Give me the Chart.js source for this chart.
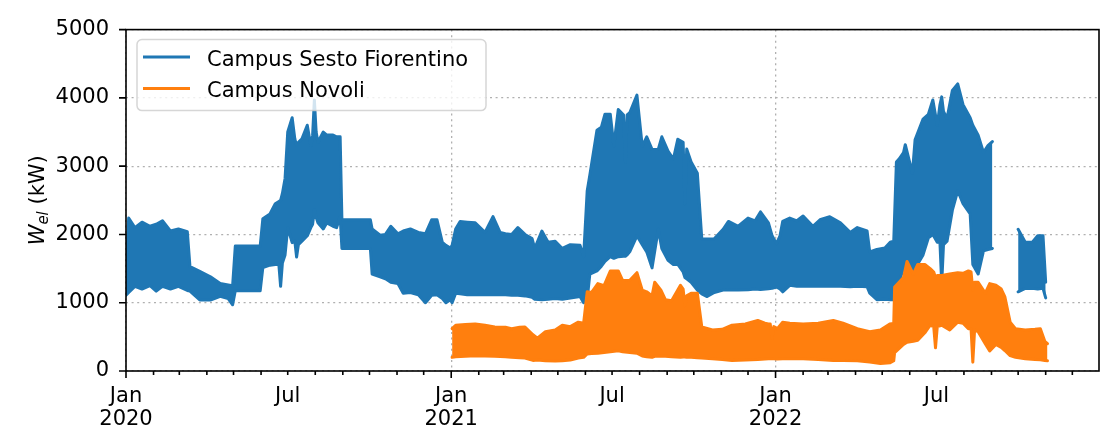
<!DOCTYPE html>
<html>
<head>
<meta charset="utf-8">
<script src="https://cdn.jsdelivr.net/npm/chart.js@4/dist/chart.umd.min.js"></script>
<style>
  html, body { margin: 0; padding: 0; background: #fff; }
  #wrap { width: 1110px; height: 431px; }
</style>
</head>
<body>
<div id="wrap"><canvas id="chart" width="1110" height="431"></canvas></div>
<script>
// days since 2020-01-01, with the upper / lower envelope of the hourly load (kW)
const seriesNames = ['Campus Sesto Fiorentino', 'Campus Novoli'];

const blueDays = [
  0, 3, 10, 18, 27, 34, 41, 50, 59, 69, 72, 83, 95, 106, 115, 120, 123, 151, 154, 162,
  168, 172, 174, 176, 179, 182, 187, 190, 192, 194, 198, 204, 208, 210, 212, 214, 216, 222, 226, 233, 237, 241, 243, 275, 277, 286,
  292, 298, 306, 312, 320, 329, 337, 344, 350, 356, 360, 365,
  367, 371, 376, 384, 393, 404, 413, 421, 427, 434, 441, 449, 457, 460, 468, 475, 483, 491, 500, 511,
  515, 519, 522, 530, 535, 539, 545, 549, 554, 560, 562, 564, 567, 575, 581, 586, 592, 599, 603, 610, 616, 621, 627, 629, 631,
  636, 643, 648, 654, 662, 672, 678, 689, 700, 708, 714, 723, 727, 732,
  736, 739, 747, 755, 762, 773, 781, 792, 804, 815, 823, 834, 837, 845, 854, 860, 864, 867, 870, 875,
  877, 885, 888, 897, 903, 908, 913, 916, 918, 920, 924, 930, 936, 942, 950, 953, 959, 965, 970, 975, 989, 1004,
  1012, 1020, 1026, 1032, 1035
];
const blueUpper = [
  1420, 2240, 2100, 2180, 2120, 2150, 2200, 2050, 2080, 2040, 1530, 1460, 1380, 1280, 1260, 1250, 1830, 1830, 2230, 2300,
  2450, 2480, 2500, 2600, 2820, 3500, 3710, 3400, 3300, 3350, 3400, 3600, 3300, 3450, 3970, 3500, 3350, 3500, 3455, 3455, 3430, 3430, 2215, 2215, 2080, 1990,
  2000, 2120, 2010, 2050, 2080, 2030, 2010, 2215, 2215, 1885, 1840, 1800,
  1840, 2080, 2190, 2180, 2170, 2030, 2260, 2030, 2010, 2000, 2100, 2000, 1940, 1795, 2050, 1885, 1900, 1795, 1850, 1840,
  1675, 2635, 2870, 3525, 3570, 3760, 3760, 3300, 3830, 3750, 3060, 3750, 3785, 4040, 3290, 3430, 3245, 3245, 3430, 3220, 3105, 3395, 3350, 2450, 3250,
  3060, 2895, 1935, 1935, 1935, 2075, 2190, 2120, 2240, 2200, 2330, 2170, 1985, 1865,
  1980, 2190, 2240, 2200, 2270, 2120, 2215, 2260, 2170, 2030, 2100, 2050, 1745, 1780, 1800, 1885, 1900, 3060, 3105, 3200,
  3315, 2895, 3385, 3690, 3760, 3970, 3600, 3900, 4015, 3800, 3700, 4110, 4205, 3900, 3710, 3600, 3455, 3200, 3300, 3360, null, 2075,
  1885, 1885, 1980, 1980, 1300
];
const blueLower = [
  1110, 1150, 1240, 1200, 1250, 1170, 1240, 1200, 1240, 1180, 1170, 1040, 1040, 1095, 1060, 970, 1175, 1175, 1515, 1550,
  1560, 1560, 1240, 1580, 1700, 2100, 1880, 1900, 1670, 1850, 1900, 1980, 2100, 2150, 2360, 2250, 2170, 2080, 2170, 2120, 2100, 2260, 1795, 1795, 1420, 1380,
  1350, 1300, 1280, 1140, 1150, 1115, 1000, 1110, 1115, 1060, 1000, 1045,
  1000, 1140, 1130, 1115, 1120, 1115, 1120, 1115, 1115, 1110, 1110, 1100, 1080, 1050, 1045, 1050, 1060, 1050, 1070, 1090,
  1000, 1050, 1420, 1465, 1535, 1605, 1675, 1650, 1675, 1680, 1680, 1700, 1750, 1980, 1850, 1745, 1510, 2075, 1795, 1620, 1560, 1560, 1450, 1370, 1350,
  1300, 1185, 1130, 1090, 1150, 1185, 1190, 1185, 1190, 1200, 1195, 1205, 1210, 1230,
  1200, 1160, 1255, 1240, 1240, 1240, 1240, 1245, 1240, 1235, 1240, 1235, 1140, 1045, 1050, 1045, 1045, 1230, 1300, 1510,
  1500, 1420, 1500, 1700, 1950, 2000, 1885, 1880, 1280, 1850, 1900, 2355, 2640, 2450, 2300, 1560, 1420, 1760, 1780, 1795, null, 1160,
  1210, 1210, 1200, 1210, 1070
];

const orangeDays = [
  367, 371, 382, 393, 404, 415, 427, 434, 443, 449, 458, 463, 472, 483, 491, 500, 509, 515, 519, 524,
  531, 538, 545, 554, 559, 567, 575, 581, 586, 592, 595, 602, 607, 614, 624, 627, 629, 631, 636, 643, 648, 660,
  671, 682, 697, 711, 719, 723, 725, 727, 729, 733, 739, 747, 762, 779, 796, 807, 823, 837, 849, 860, 864, 865,
  875, 879, 886, 891, 899, 905, 909, 911, 913, 918, 927, 936, 942, 948, 951, 953, 955, 959, 967, 972, 979, 985, 989, 995,
  1001, 1012, 1023, 1029, 1034, 1037
];
const orangeUpper = [
  620, 670, 680, 690, 670, 645, 640, 620, 640, 645, 530, 480, 575, 600, 670, 650, 715, 700, 1160, 1150,
  1280, 1250, 1465, 1465, 1325, 1330, 1440, 1185, 1160, 1100, 1300, 1185, 1045, 1030, 1255, 1200, 955, 1100, 1140, 1140, 645, 600,
  610, 670, 690, 740, 700, 690, 690, 480, 650, 620, 715, 700, 690, 700, 740, 700, 620, 575, 600, 690, 700, 1230,
  1370, 1605, 1420, 1560, 1560, 1500, 1450, 1370, 1400, 1400, 1420, 1440, 1430, 1465, 1450, 1185, 1300, 1300, 1140, 1280, 1255, 1200, 1090, 715,
  620, 600, 610, 620, 435, 400
];
const orangeLower = [
  200, 210, 215, 225, 220, 215, 210, 200, 195, 190, 155, 160, 150, 145, 150, 160, 190, 200, 250, 255,
  260, 270, 280, 295, 280, 270, 260, 220, 210, 200, 215, 220, 215, 210, 200, 205, 205, 200, 200, 195, 190, 180,
  170, 155, 160, 170, 175, 180, 180, 180, 178, 175, 180, 180, 180, 170, 155, 155, 150, 130, 110, 120, 150, 270,
  390, 420, 435, 450, 560, 670, 650, 340, 650, 670, 600, 715, 700, 620, 620, 130, 600, 575, 400, 295, 390, 345, 300, 225,
  200, 180, 170, 165, 155, 150
];

const yTicks = [0, 1000, 2000, 3000, 4000, 5000];
const startYear = 2020, endYear = 2022;
const xMaxDay = 1095;

const BLUE = '#1f77b4', ORANGE = '#ff7f0e', GRID = '#b0b0b0';
const FONT = '"DejaVu Sans", sans-serif';

// first day of every month, as days since 2020-01-01
const monthDays = [];
for (let yr = startYear; yr <= endYear; yr++) {
  for (let m = 0; m < 12; m++) monthDays.push((Date.UTC(yr, m, 1) - Date.UTC(startYear, 0, 1)) / 864e5);
}

const pts = (xs, ys) => xs.map((x, i) => ({ x, y: ys[i] }));

function lineSet(label, xs, ys, color, fill, order) {
  return {
    label, data: pts(xs, ys), borderColor: color, backgroundColor: color, borderWidth: 3,
    pointRadius: 0, fill, order, spanGaps: false, tension: 0,
    borderJoinStyle: 'round', borderCapStyle: 'round'
  };
}

const framePlugin = {
  id: 'frame',
  afterDraw(chart) {
    const { ctx, chartArea: a, scales: { x, y } } = chart;
    ctx.save();
    // spines
    ctx.strokeStyle = '#000';
    ctx.lineWidth = 1.6;
    ctx.strokeRect(a.left, a.top, a.right - a.left, a.bottom - a.top);
    // tick marks
    ctx.beginPath();
    yTicks.forEach(v => {
      const py = y.getPixelForValue(v);
      ctx.moveTo(a.left, py); ctx.lineTo(a.left - 7, py);
    });
    monthDays.forEach((d, i) => {
      const px = x.getPixelForValue(d);
      ctx.moveTo(px, a.bottom); ctx.lineTo(px, a.bottom + (i % 12 === 0 ? 7 : 4));
    });
    ctx.stroke();

    // y axis title: W_el (kW)
    ctx.save();
    ctx.translate(36, (a.top + a.bottom) / 2);
    ctx.rotate(-Math.PI / 2);
    ctx.fillStyle = '#000';
    ctx.textBaseline = 'alphabetic';
    const fW = 'italic 21px ' + FONT, fSub = 'italic 15px ' + FONT, fReg = '21px ' + FONT;
    ctx.font = fW; const wW = ctx.measureText('W').width;
    ctx.font = fSub; const wS = ctx.measureText('el').width;
    ctx.font = fReg; const wR = ctx.measureText(' (kW)').width;
    let cx = -(wW + wS + wR) / 2;
    ctx.font = fW; ctx.fillText('W', cx, 7.5); cx += wW;
    ctx.font = fSub; ctx.fillText('el', cx, 11.5); cx += wS;
    ctx.font = fReg; ctx.fillText(' (kW)', cx, 7.5);
    ctx.restore();

    // legend
    const lx = a.left + 11, ly = a.top + 10, lw = 349, lh = 71, r = 5;
    ctx.beginPath();
    ctx.moveTo(lx + r, ly);
    ctx.arcTo(lx + lw, ly, lx + lw, ly + lh, r);
    ctx.arcTo(lx + lw, ly + lh, lx, ly + lh, r);
    ctx.arcTo(lx, ly + lh, lx, ly, r);
    ctx.arcTo(lx, ly, lx + lw, ly, r);
    ctx.closePath();
    ctx.fillStyle = 'rgba(255,255,255,0.8)';
    ctx.fill();
    ctx.strokeStyle = 'rgba(204,204,204,0.8)';
    ctx.lineWidth = 1.5;
    ctx.stroke();
    [BLUE, ORANGE].forEach((c, i) => {
      const yy = ly + 17.5 + i * 31.5;
      ctx.strokeStyle = c; ctx.lineWidth = 3;
      ctx.beginPath(); ctx.moveTo(lx + 6, yy); ctx.lineTo(lx + 53, yy); ctx.stroke();
      ctx.fillStyle = '#000'; ctx.font = '21px ' + FONT;
      ctx.fillText(seriesNames[i], lx + 70, yy + 8.8);
    });
    ctx.restore();
  }
};

new Chart(document.getElementById('chart'), {
  type: 'line',
  data: {
    datasets: [
      lineSet(seriesNames[0] + ' low', blueDays, blueLower, BLUE, false, 1),
      lineSet(seriesNames[0], blueDays, blueUpper, BLUE, '-1', 1),
      lineSet(seriesNames[1] + ' low', orangeDays, orangeLower, ORANGE, false, 0),
      lineSet(seriesNames[1], orangeDays, orangeUpper, ORANGE, '-1', 0)
    ]
  },
  options: {
    responsive: false,
    animation: false,
    layout: { padding: { top: 15, right: 11, left: 0, bottom: 0 } },
    plugins: { legend: { display: false }, tooltip: { enabled: false } },
    scales: {
      x: {
        type: 'linear', min: 0, max: xMaxDay,
        afterFit(s) { s.height = 60; },
        afterBuildTicks(s) { s.ticks = monthDays.map(v => ({ value: v })); },
        grid: { drawTicks: false, lineWidth: 1.3, color: c => (c.index % 12 === 0 ? GRID : 'rgba(0,0,0,0)') },
        border: { display: false, dash: [2, 3.6] },
        ticks: {
          autoSkip: false, maxRotation: 0, minRotation: 0, padding: 15, color: '#000',
          font: { family: FONT, size: 21, lineHeight: 1.05 },
          callback: (v, i) => {
            const m = i % 12, yr = startYear + Math.floor(i / 12);
            if (m === 0) return ['Jan', String(yr)];
            if (m === 6) return 'Jul';
            return '';
          }
        }
      },
      y: {
        min: 0, max: 5000,
        afterFit(s) { s.width = 126; },
        afterBuildTicks(s) { s.ticks = yTicks.map(v => ({ value: v })); },
        grid: { drawTicks: false, lineWidth: 1.3, color: GRID },
        border: { display: false, dash: [2, 3.6] },
        ticks: { padding: 17, color: '#000', font: { family: FONT, size: 21 }, callback: v => String(v) }
      }
    }
  },
  plugins: [framePlugin]
});
</script>
</body>
</html>
